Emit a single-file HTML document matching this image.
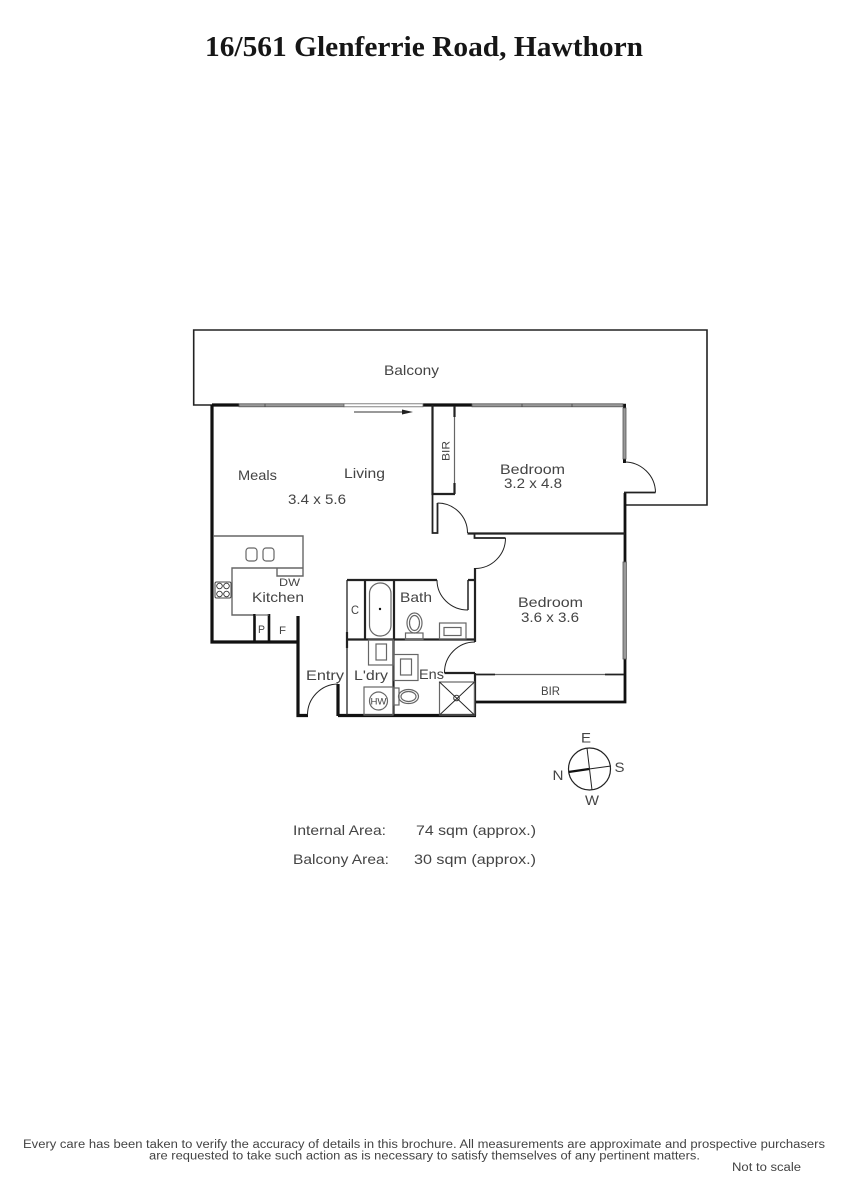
<!DOCTYPE html>
<html><head><meta charset="utf-8"><style>
html,body{margin:0;padding:0;background:#fff}
svg{display:block}
text{font-family:"Liberation Sans",sans-serif;fill:#444;font-size:14px}
.t{stroke:#222;stroke-width:1.3;fill:none}
.h{stroke:#111;stroke-width:3.2;fill:none}
.m{stroke:#222;stroke-width:2.2;fill:none}
.g{stroke:#666;stroke-width:1.2;fill:none}
.a{stroke:#222;stroke-width:1;fill:none}
.w{fill:#999;stroke:#555;stroke-width:.8}
</style></head><body>
<svg width="848" height="1200" viewBox="0 0 848 1200" xmlns="http://www.w3.org/2000/svg">
<text x="205" y="56" textLength="438" lengthAdjust="spacingAndGlyphs" style="font-family:'Liberation Serif',serif;font-weight:bold;font-size:29px;fill:#161616">16/561 Glenferrie Road, Hawthorn</text>

<!-- balcony -->
<path class="m" style="stroke-width:1.6" d="M212 405H193.7V330H707V505H625"/>
<!-- outer walls -->
<path class="h" d="M212 405V642H298M298 616V715.500H308M212 405H239M423 405H472M338 715.500H476M338 684V716"/>
<path class="h" style="stroke-width:2.8" d="M625 493V562M625 659V702H475"/>
<path class="h" style="stroke-width:3" d="M624.500 403.800V408M624.500 459V463"/>
<!-- windows -->
<rect class="w" x="239" y="403.800" width="105" height="3"/>
<path stroke="#444" stroke-width=".8" d="M265 403.500V407"/>
<rect x="344" y="403.800" width="79" height="3" fill="#fff" stroke="#666" stroke-width=".8"/>
<rect class="w" x="472" y="403.800" width="151" height="3"/>
<path stroke="#444" stroke-width=".8" d="M522 403.500V407M572 403.500V407"/>
<rect class="w" x="623" y="408" width="3" height="51"/>
<rect class="w" x="623" y="562" width="3.400" height="97"/>
<!-- arrow -->
<path stroke="#333" stroke-width="1" d="M354 412H403"/><path fill="#222" d="M402 409.500L413 412L402 414.500Z"/>
<!-- BIR 1 -->
<path class="m" d="M432.500 405V494H455"/>
<path class="m" d="M454.500 406V417M454.500 483V494"/>
<path class="g" d="M454.500 417V483"/>
<path class="m" style="stroke-width:1.8" d="M432.500 494V533H437.500V503"/>
<path class="a" d="M437.500 503A30 30 0 0 1 467.500 533"/>
<!-- bedroom divider -->
<path class="m" d="M467.500 533.500H625"/>
<path class="m" style="stroke-width:1.8" d="M474.500 533.500V538H505.500"/>
<path class="a" d="M505.500 538A30.500 30.500 0 0 1 475 568.500"/>
<path class="m" d="M475 568V642M475 673V716M444.500 673H475"/>
<path class="a" d="M444.500 673A30.500 30.500 0 0 1 475 642"/>
<!-- balcony bedroom door -->
<path class="a" d="M624.500 462A31 31 0 0 1 655.500 492.500"/>
<path class="m" style="stroke-width:1.8" d="M624 492.500H655.500"/>
<!-- kitchen -->
<path class="g" style="stroke-width:1.4" d="M213 536H303V576H277V568H303M277 568H232V615H255"/>
<rect x="246" y="548" width="11" height="13" rx="3" class="g"/>
<rect x="263" y="548" width="11" height="13" rx="3" class="g"/>
<rect x="215" y="582" width="16" height="16" rx="1.500" fill="#fff" stroke="#444"/>
<g fill="#fff" stroke="#333" stroke-width=".9"><circle cx="219.500" cy="586" r="2.800"/><circle cx="226.500" cy="586" r="2.800"/><circle cx="219.500" cy="594" r="2.800"/><circle cx="226.500" cy="594" r="2.800"/></g>
<path class="h" style="stroke-width:2.6" d="M254.500 614V642M269 614V642"/>
<path class="g" d="M255 615H269"/>
<!-- entry door -->
<path class="a" d="M307.500 715A31 31 0 0 1 338 684"/>
<!-- wet area -->
<path class="m" d="M347 580H437M365 580V640M394 580V640M347 639.500H474M468 580H474M347 632V648"/>
<path class="t" d="M347 580V715"/>
<path class="m" style="stroke-width:1.5" d="M468 580V610"/>
<path class="a" d="M437 580A31 30 0 0 0 468 610"/>
<rect x="369.500" y="583" width="21.500" height="53" rx="10.500" class="g"/>
<circle cx="380" cy="609" r="1.200" fill="#111"/>
<ellipse cx="414.500" cy="623" rx="7.500" ry="10" class="g"/>
<ellipse cx="414.500" cy="623" rx="5" ry="7.500" class="g"/>
<rect x="405.500" y="633" width="17.500" height="6.500" class="g"/>
<rect x="439.500" y="623" width="26.500" height="16" class="g"/>
<rect x="444" y="627.500" width="17" height="8" class="g"/>
<path class="m" d="M393.500 640V715"/>
<rect x="368.500" y="640" width="25" height="25" class="g"/>
<rect x="376" y="644" width="10.500" height="16" class="g"/>
<rect x="394" y="654.500" width="24" height="26" class="g"/>
<rect x="400.500" y="659" width="11" height="16" class="g"/>
<rect x="364" y="687" width="29" height="28" class="g"/>
<circle cx="378.500" cy="701" r="9" class="g"/>
<rect x="394" y="688" width="5" height="17" class="g"/>
<ellipse cx="408.500" cy="696.500" rx="10" ry="7" class="g"/>
<ellipse cx="408.500" cy="696.500" rx="7.500" ry="5" class="g"/>
<!-- shower -->
<rect x="439.500" y="682" width="35" height="33" class="g"/>
<path class="t" style="stroke-width:.9" d="M439.500 682L474.500 715M474.500 682L439.500 715"/>
<circle cx="456.500" cy="698" r="2.800" fill="none" stroke="#333"/>
<!-- bedroom 2 BIR -->
<path class="g" d="M495 674.500H605"/>
<path class="m" style="stroke-width:1.8" d="M475 674.500H495M605 674.500H624"/>

<!-- labels -->
<text x="384" y="375" textLength="55" lengthAdjust="spacingAndGlyphs">Balcony</text>
<text x="238" y="480" textLength="39" lengthAdjust="spacingAndGlyphs">Meals</text>
<text x="344" y="478" textLength="41" lengthAdjust="spacingAndGlyphs">Living</text>
<text x="288" y="504" textLength="58" lengthAdjust="spacingAndGlyphs">3.4 x 5.6</text>
<text transform="translate(449.500 461) rotate(-90)" textLength="20" lengthAdjust="spacingAndGlyphs" style="font-size:11px">BIR</text>
<text x="500" y="474" textLength="65" lengthAdjust="spacingAndGlyphs">Bedroom</text>
<text x="504" y="488" textLength="58" lengthAdjust="spacingAndGlyphs">3.2 x 4.8</text>
<text x="518" y="607" textLength="65" lengthAdjust="spacingAndGlyphs">Bedroom</text>
<text x="521" y="622" textLength="58" lengthAdjust="spacingAndGlyphs">3.6 x 3.6</text>
<text x="279" y="586" textLength="21" lengthAdjust="spacingAndGlyphs" style="font-size:11px">DW</text>
<text x="252" y="602" textLength="52" lengthAdjust="spacingAndGlyphs">Kitchen</text>
<text x="258" y="633" textLength="7" lengthAdjust="spacingAndGlyphs" style="font-size:11px">P</text>
<text x="279" y="634" textLength="7" lengthAdjust="spacingAndGlyphs" style="font-size:11px">F</text>
<text x="306" y="680" textLength="38" lengthAdjust="spacingAndGlyphs">Entry</text>
<text x="354" y="680" textLength="34" lengthAdjust="spacingAndGlyphs">L'dry</text>
<text x="419" y="679" textLength="25" lengthAdjust="spacingAndGlyphs">Ens</text>
<text x="400" y="602" textLength="32" lengthAdjust="spacingAndGlyphs">Bath</text>
<text x="351" y="614" textLength="8" lengthAdjust="spacingAndGlyphs" style="font-size:11.500px">C</text>
<text x="370.500" y="704.500" textLength="16" lengthAdjust="spacingAndGlyphs" style="font-size:9.500px">HW</text>
<text x="541" y="695" textLength="19" lengthAdjust="spacingAndGlyphs" style="font-size:11.500px">BIR</text>

<!-- compass -->
<circle cx="589.500" cy="769" r="21" fill="none" stroke="#222" stroke-width="1.200"/>
<path stroke="#222" stroke-width="1" d="M587 748L592 790M589 769L611 766"/>
<path stroke="#111" stroke-width="2.200" d="M568.500 772L589 769"/>
<text x="581" y="742.500" textLength="10" lengthAdjust="spacingAndGlyphs">E</text>
<text x="614.500" y="772" textLength="10" lengthAdjust="spacingAndGlyphs">S</text>
<text x="552.500" y="780" textLength="11" lengthAdjust="spacingAndGlyphs">N</text>
<text x="585" y="805" textLength="14" lengthAdjust="spacingAndGlyphs">W</text>

<!-- areas -->
<text x="293" y="835" textLength="93" lengthAdjust="spacingAndGlyphs">Internal Area:</text>
<text x="416" y="835" textLength="120" lengthAdjust="spacingAndGlyphs">74 sqm (approx.)</text>
<text x="293" y="864" textLength="96" lengthAdjust="spacingAndGlyphs">Balcony Area:</text>
<text x="414" y="864" textLength="122" lengthAdjust="spacingAndGlyphs">30 sqm (approx.)</text>

<!-- footer -->
<text x="23" y="1148" textLength="802" lengthAdjust="spacingAndGlyphs" style="font-size:11.500px">Every care has been taken to verify the accuracy of details in this brochure.  All measurements are approximate and prospective purchasers</text>
<text x="149" y="1159.500" textLength="551" lengthAdjust="spacingAndGlyphs" style="font-size:11.500px">are requested to take such action as is necessary to satisfy themselves of any pertinent matters.</text>
<text x="732" y="1171" textLength="69" lengthAdjust="spacingAndGlyphs" style="font-size:11.500px">Not to scale</text>
</svg>
</body></html>
